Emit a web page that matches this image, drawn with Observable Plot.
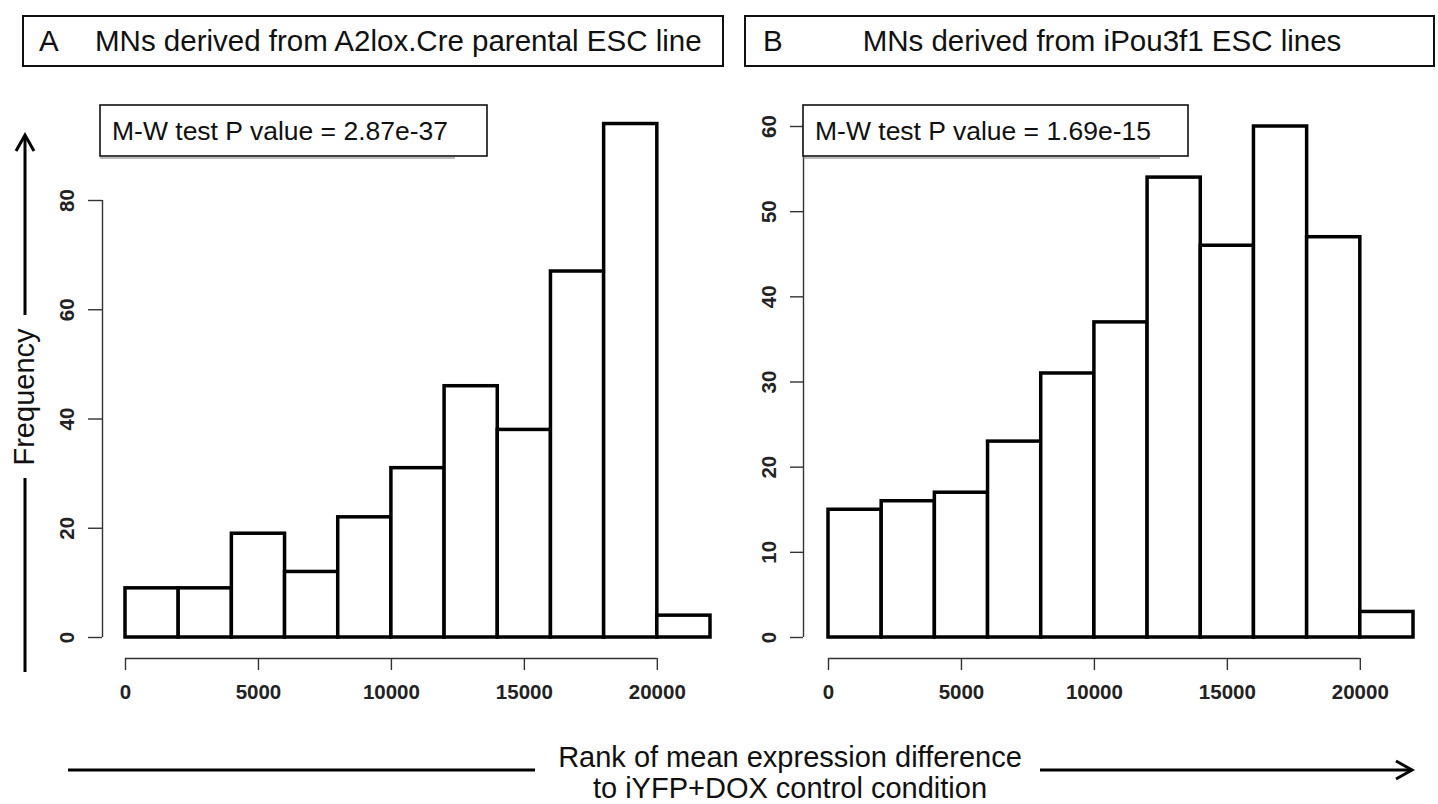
<!DOCTYPE html>
<html>
<head>
<meta charset="utf-8">
<script src="https://cdn.jsdelivr.net/npm/d3@7"></script>
<script src="https://cdn.jsdelivr.net/npm/@observablehq/plot@0.6"></script>
<style>
  html, body { margin: 0; padding: 0; background: #fff; }
  #wrap { position: relative; width: 1438px; height: 804px; overflow: hidden; background: #fff;
          font-family: "Liberation Sans", Arial, sans-serif; }
  .panel { position: absolute; top: 0; }
  #overlay { position: absolute; left: 0; top: 0; pointer-events: none; }
</style>
</head>
<body>
<div id="wrap">
  <div id="panelA" class="panel" style="left:0px"></div>
  <div id="panelB" class="panel" style="left:719px"></div>
  <svg id="overlay" width="1438" height="804"></svg>
</div>
<script>
// ---- data ----
const binEdges = [0, 2000, 4000, 6000, 8000, 10000, 12000, 14000, 16000, 18000, 20000, 22000];
const countsA = [9, 9, 19, 12, 22, 31, 46, 38, 67, 94, 4];
const countsB = [15, 16, 17, 23, 31, 37, 54, 46, 60, 47, 3];
const xTicks = [0, 5000, 10000, 15000, 20000];
const yTicksA = [0, 20, 40, 60, 80];
const yTicksB = [0, 10, 20, 30, 40, 50, 60];
const panelLetters = ["A", "B"];
const panelTitles = ["MNs derived from A2lox.Cre parental ESC line", "MNs derived from iPou3f1 ESC lines"];
const pValueLabels = ["M-W test P value = 2.87e-37", "M-W test P value = 1.69e-15"];
const yLabel = "Frequency";
const xLabelLines = ["Rank of mean expression difference", "to iYFP+DOX control condition"];

const FONT = "Liberation Sans, Arial, sans-serif";

function histPanel(counts, yTicks, yMax, topTickPx, marginLeft, marginRight, axisDx, tickLen) {
  const bins = counts.map((n, i) => ({x1: binEdges[i], x2: binEdges[i + 1], n}));
  const H = 720, y0 = 637;
  const topTick = yTicks[yTicks.length - 1];
  const pxPerUnit = (y0 - topTickPx) / topTick;
  const marginTop = y0 - pxPerUnit * yMax;
  return Plot.plot({
    width: 719, height: H,
    marginLeft, marginRight, marginTop, marginBottom: H - y0,
    x: {domain: [0, 22000], axis: null},
    y: {domain: [0, yMax], axis: null},
    style: {fontFamily: FONT, fontSize: "20.5px", background: "transparent", overflow: "visible"},
    marks: [
      Plot.rectY(bins, {x1: "x1", x2: "x2", y: "n", fill: "white", stroke: "black", strokeWidth: 3.5}),
      // x axis (offset below the bars, R style)
      Plot.ruleY([0], {x1: 0, x2: xTicks[xTicks.length - 1], dy: 21, stroke: "#333", strokeWidth: 1.4}),
      Plot.axisX({ticks: xTicks, label: null, tickSize: 12, dy: 21, tickPadding: 14, fontSize: 20.5,
                  fontWeight: "bold", tickFormat: d => String(d), stroke: "#333", strokeWidth: 1.4, fill: "#222"}),
      // y axis
      Plot.ruleX([0], {y1: 0, y2: topTick, dx: axisDx, stroke: "#333", strokeWidth: 1.4}),
      Plot.axisY({ticks: yTicks, label: null, tickSize: tickLen, dx: axisDx, tickRotate: -90, tickPadding: 15,
                  fontSize: 20.5, fontWeight: "bold", tickFormat: d => String(d), stroke: "#333", strokeWidth: 1.4,
                  fill: "#222"})
    ]
  });
}

document.getElementById("panelA").append(histPanel(countsA, yTicksA, 100, 200, 125, 9, -23, 14));
document.getElementById("panelB").append(histPanel(countsB, yTicksB, 60, 126, 109, 25, -25, 13));

// ---- decorations: title boxes, p-value boxes, arrows, axis titles ----
const svg = d3.select("#overlay");
const titleBoxes = [
  {x: 23, w: 700, letterX: 39, textX: 95, anchor: "start"},
  {x: 745, w: 689, letterX: 763, textX: 1102, anchor: "middle"}
];
titleBoxes.forEach((b, i) => {
  svg.append("rect").attr("x", b.x).attr("y", 16).attr("width", b.w).attr("height", 50)
    .attr("fill", "white").attr("stroke", "#111").attr("stroke-width", 2);
  svg.append("text").attr("x", b.letterX).attr("y", 51).attr("font-family", FONT).attr("font-size", 29.5)
    .attr("fill", "#111").text(panelLetters[i]);
  svg.append("text").attr("x", b.textX).attr("y", 51).attr("font-family", FONT).attr("font-size", 29.5)
    .attr("text-anchor", b.anchor).attr("fill", "#111").text(panelTitles[i]);
});

const pBoxes = [{x: 100, w: 387, shadow: 455}, {x: 803, w: 385, shadow: 1160}];
pBoxes.forEach((b, i) => {
  svg.append("line").attr("x1", b.x).attr("x2", b.shadow).attr("y1", 158).attr("y2", 158)
    .attr("stroke", "#777").attr("stroke-width", 1);
  svg.append("rect").attr("x", b.x).attr("y", 105).attr("width", b.w).attr("height", 51)
    .attr("fill", "white").attr("stroke", "#111").attr("stroke-width", 1.6);
  svg.append("text").attr("x", b.x + 12).attr("y", 140).attr("font-family", FONT).attr("font-size", 26.5)
    .attr("fill", "#111").text(pValueLabels[i]);
});

const lineStyle = sel => sel.attr("stroke", "#000").attr("stroke-width", 3).attr("fill", "none")
  .attr("stroke-linecap", "butt");
// vertical Frequency arrow
lineStyle(svg.append("line").attr("x1", 25).attr("x2", 25).attr("y1", 672).attr("y2", 478));
lineStyle(svg.append("line").attr("x1", 25).attr("x2", 25).attr("y1", 315).attr("y2", 136));
lineStyle(svg.append("path").attr("d", "M16,151 L25,135 L34,151"));
svg.append("text").attr("transform", "translate(24,397) rotate(-90)").attr("text-anchor", "middle")
  .attr("dy", "0.36em").attr("font-family", FONT).attr("font-size", 29).attr("fill", "#111").text(yLabel);

// horizontal arrow and x label
lineStyle(svg.append("line").attr("x1", 68).attr("x2", 535).attr("y1", 770).attr("y2", 770));
lineStyle(svg.append("line").attr("x1", 1040).attr("x2", 1410).attr("y1", 770).attr("y2", 770));
lineStyle(svg.append("path").attr("d", "M1396,761 L1412,770 L1396,779"));
xLabelLines.forEach((t, i) => {
  svg.append("text").attr("x", 790).attr("y", 767 + i * 31).attr("text-anchor", "middle")
    .attr("font-family", FONT).attr("font-size", 29).attr("fill", "#111").text(t);
});
</script>
</body>
</html>
